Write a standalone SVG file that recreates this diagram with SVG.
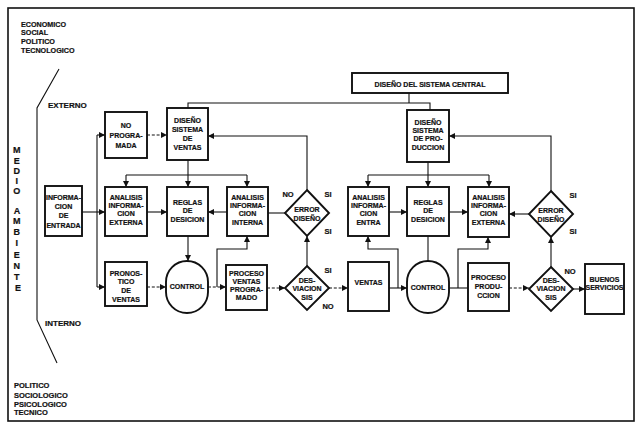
<svg xmlns="http://www.w3.org/2000/svg" width="639" height="426" viewBox="0 0 639 426">
  <style>
    .frame { fill: none; stroke: #111; stroke-width: 1.6; }
    .box { fill: #fff; stroke: #111; stroke-width: 1.9; }
    .ln { fill: none; stroke: #111; stroke-width: 1.1; }
    .dash { stroke-dasharray: 3 1.8; }
    .t { font-family: "Liberation Sans", Arial, sans-serif; font-weight: bold; font-size: 7px; fill: #111; stroke: #111; stroke-width: 0.2; text-anchor: middle; }
    .side { font-family: "Liberation Sans", Arial, sans-serif; font-weight: bold; fill: #111; stroke: #111; stroke-width: 0.2; }
    .lbl { font-family: "Liberation Sans", Arial, sans-serif; font-weight: bold; font-size: 7.5px; fill: #111; stroke: #111; stroke-width: 0.2; text-anchor: middle; }
  </style>
  <defs>
    <marker id="ah" viewBox="0 0 6 6" refX="6" refY="3" markerWidth="6" markerHeight="6" markerUnits="userSpaceOnUse" orient="auto">
      <path d="M0,0 L6,3 L0,6 Z" fill="#111"/>
    </marker>
  </defs>

  <rect width="639" height="426" fill="#fff"/>
  <rect class="frame" x="8" y="8" width="626" height="413"/>

  <!-- environment annotations -->
  <g id="environment">
    <text class="side" font-size="7.2">
      <tspan x="21" y="26.5">ECONOMICO</tspan>
      <tspan x="21" y="34.5">SOCIAL</tspan>
      <tspan x="21" y="43.5">POLITICO</tspan>
      <tspan x="21" y="52.5">TECNOLOGICO</tspan>
    </text>
    <text class="side" font-size="8" x="48" y="108">EXTERNO</text>
    <text class="side" font-size="8" x="45" y="326">INTERNO</text>
    <text class="side" font-size="7.5">
      <tspan x="14" y="388">POLITICO</tspan>
      <tspan x="14" y="397.5">SOCIOLOGICO</tspan>
      <tspan x="14" y="406.5">PSICOLOGICO</tspan>
      <tspan x="14" y="415">TECNICO</tspan>
    </text>
    <text class="side" font-size="9" text-anchor="middle">
      <tspan x="18" y="153">M</tspan>
      <tspan x="18" y="164">E</tspan>
      <tspan x="18" y="174">D</tspan>
      <tspan x="18" y="184">I</tspan>
      <tspan x="18" y="194">O</tspan>
      <tspan x="18" y="214">A</tspan>
      <tspan x="18" y="224">M</tspan>
      <tspan x="18" y="235">B</tspan>
      <tspan x="18" y="246">I</tspan>
      <tspan x="18" y="258">E</tspan>
      <tspan x="18" y="269">N</tspan>
      <tspan x="18" y="280">T</tspan>
      <tspan x="18" y="291">E</tspan>
    </text>
    <path class="ln" d="M59,69 L37,108 L37,320 L57,363"/>
  </g>

  <!-- connectors -->
  <g id="connectors">
    <!-- central design to both subsystem designs -->
    <path class="ln" d="M409,93 V103"/>
    <path class="ln" d="M188,108 V103 H430 V110"/>
    <!-- input bus -->
    <path class="ln" d="M97,135 V287"/>
    <path class="ln" d="M97,135 H105" marker-end="url(#ah)"/>
    <path class="ln" d="M82,212 H105" marker-end="url(#ah)"/>
    <path class="ln" d="M97,287 H105" marker-end="url(#ah)"/>
    <!-- sales subsystem -->
    <path class="ln dash" d="M147,135 H167" marker-end="url(#ah)"/>
    <path class="ln" d="M307,190 V136 H208" marker-end="url(#ah)"/>
    <path class="ln" d="M188,160 V187" marker-end="url(#ah)"/>
    <path class="ln" d="M126,175 H247"/>
    <path class="ln" d="M126,175 V187" marker-end="url(#ah)"/>
    <path class="ln" d="M247,175 V187" marker-end="url(#ah)"/>
    <path class="ln" d="M147,212 H167" marker-end="url(#ah)"/>
    <path class="ln" d="M227,212 H208" marker-end="url(#ah)"/>
    <path class="ln" d="M285,213 H268"/>
    <path class="ln" d="M188,236 V261" marker-end="url(#ah)"/>
    <path class="ln dash" d="M147,287 H166" marker-end="url(#ah)"/>
    <path class="ln dash" d="M208,287 H226" marker-end="url(#ah)"/>
    <path class="ln" d="M217,287 V249 H247 V236" marker-end="url(#ah)"/>
    <path class="ln dash" d="M267,288 H285" marker-end="url(#ah)"/>
    <path class="ln" d="M307,266 V236" marker-end="url(#ah)"/>
    <path class="ln dash" d="M329,288 H348" marker-end="url(#ah)"/>
    <!-- production subsystem -->
    <path class="ln" d="M389,288 H407" marker-end="url(#ah)"/>
    <path class="ln" d="M398,288 V249 H368 V236" marker-end="url(#ah)"/>
    <path class="ln" d="M428,162 V187" marker-end="url(#ah)"/>
    <path class="ln" d="M368,175 H489"/>
    <path class="ln" d="M368,175 V187" marker-end="url(#ah)"/>
    <path class="ln" d="M489,175 V187" marker-end="url(#ah)"/>
    <path class="ln" d="M389,212 H407" marker-end="url(#ah)"/>
    <path class="ln" d="M449,212 H468" marker-end="url(#ah)"/>
    <path class="ln" d="M529,214 H509" marker-end="url(#ah)"/>
    <path class="ln" d="M551,191 V136 H449" marker-end="url(#ah)"/>
    <path class="ln" d="M428,236 V261"/>
    <path class="ln" d="M449,288 H468"/>
    <path class="ln" d="M458,288 V249 H488 V237" marker-end="url(#ah)"/>
    <path class="ln dash" d="M509,288 H529" marker-end="url(#ah)"/>
    <path class="ln" d="M573,289 H585" marker-end="url(#ah)"/>
    <path class="ln" d="M551,267 V237" marker-end="url(#ah)"/>
  </g>

  <!-- nodes -->
  <g id="sistema-central">
    <rect class="box" x="352" y="73" width="156" height="20"/>
    <text class="t" x="430" y="86.5" font-size="8">DISEÑO DEL SISTEMA CENTRAL</text>
  </g>

  <g id="no-programada">
    <rect class="box" x="105" y="112" width="42" height="46"/>
    <text class="t"><tspan x="126" y="127.5">NO</tspan><tspan x="126" y="137.5">PROGRA-</tspan><tspan x="126" y="147.5">MADA</tspan></text>
  </g>

  <g id="diseno-ventas">
    <rect class="box" x="167" y="108" width="41" height="52"/>
    <text class="t"><tspan x="187.5" y="122.5">DISEÑO</tspan><tspan x="187.5" y="131.5">SISTEMA</tspan><tspan x="187.5" y="140.5">DE</tspan><tspan x="187.5" y="150">VENTAS</tspan></text>
  </g>

  <g id="diseno-produccion">
    <rect class="box" x="407" y="110" width="42" height="52"/>
    <text class="t"><tspan x="428" y="124.5">DISEÑO</tspan><tspan x="428" y="132.5">SISTEMA</tspan><tspan x="428" y="140.5">DE PRO-</tspan><tspan x="428" y="149.5">DUCCION</tspan></text>
  </g>

  <g id="informacion-entrada">
    <rect class="box" x="45" y="186" width="37" height="50"/>
    <text class="t"><tspan x="63.5" y="199.5">INFORMA-</tspan><tspan x="63.5" y="208.5">CION</tspan><tspan x="63.5" y="218">DE</tspan><tspan x="63.5" y="227.5">ENTRADA</tspan></text>
  </g>

  <g id="analisis-externa-ventas">
    <rect class="box" x="105" y="187" width="42" height="49"/>
    <text class="t"><tspan x="126" y="199.5">ANALISIS</tspan><tspan x="126" y="207.5">INFORMA-</tspan><tspan x="126" y="216">CION</tspan><tspan x="126" y="224.5">EXTERNA</tspan></text>
  </g>

  <g id="reglas-ventas">
    <rect class="box" x="167" y="187" width="41" height="49"/>
    <text class="t"><tspan x="187.5" y="204.5">REGLAS</tspan><tspan x="187.5" y="212.5">DE</tspan><tspan x="187.5" y="221.5">DESICION</tspan></text>
  </g>

  <g id="analisis-interna">
    <rect class="box" x="227" y="187" width="41" height="49"/>
    <text class="t"><tspan x="247.5" y="199.5">ANALISIS</tspan><tspan x="247.5" y="207.5">INFORMA-</tspan><tspan x="247.5" y="216">CION</tspan><tspan x="247.5" y="224.5">INTERNA</tspan></text>
  </g>

  <g id="error-diseno-ventas">
    <polygon class="box" points="307,190 329,213 307,236 285,213"/>
    <text class="t"><tspan x="307" y="211.5">ERROR</tspan><tspan x="307" y="220.5">DISEÑO</tspan></text>
  </g>

  <g id="pronostico-ventas">
    <rect class="box" x="105" y="262" width="42" height="44"/>
    <text class="t"><tspan x="126" y="275.5">PRONOS-</tspan><tspan x="126" y="283.5">TICO</tspan><tspan x="126" y="292.5">DE</tspan><tspan x="126" y="301.5">VENTAS</tspan></text>
  </g>

  <g id="control-ventas">
    <path class="box" d="M166,282 A21,21 0 0 1 208,282 V292 A21,21 0 0 1 166,292 Z"/>
    <text class="t" x="187" y="289">CONTROL</text>
  </g>

  <g id="proceso-ventas">
    <rect class="box" x="226" y="265" width="41" height="45"/>
    <text class="t"><tspan x="246.5" y="276">PROCESO</tspan><tspan x="246.5" y="284">VENTAS</tspan><tspan x="246.5" y="292">PROGRA-</tspan><tspan x="246.5" y="300">MADO</tspan></text>
  </g>

  <g id="desviaciones-ventas">
    <polygon class="box" points="307,266 329,288 307,310 285,288"/>
    <text class="t"><tspan x="307" y="282.5">DES-</tspan><tspan x="307" y="291">VIACION</tspan><tspan x="307" y="299.5">SIS</tspan></text>
  </g>

  <g id="ventas">
    <rect class="box" x="348" y="262" width="41" height="49"/>
    <text class="t" x="368.5" y="284.5">VENTAS</text>
  </g>

  <g id="analisis-entra">
    <rect class="box" x="348" y="187" width="41" height="49"/>
    <text class="t"><tspan x="368.5" y="199.5">ANALISIS</tspan><tspan x="368.5" y="207.5">INFORMA-</tspan><tspan x="368.5" y="216">CION</tspan><tspan x="368.5" y="224.5">ENTRA</tspan></text>
  </g>

  <g id="reglas-produccion">
    <rect class="box" x="407" y="187" width="42" height="49"/>
    <text class="t"><tspan x="428" y="204.5">REGLAS</tspan><tspan x="428" y="212.5">DE</tspan><tspan x="428" y="221.5">DESICION</tspan></text>
  </g>

  <g id="analisis-externa-produccion">
    <rect class="box" x="468" y="187" width="41" height="50"/>
    <text class="t"><tspan x="488.5" y="199.5">ANALISIS</tspan><tspan x="488.5" y="207.5">INFORMA-</tspan><tspan x="488.5" y="216">CION</tspan><tspan x="488.5" y="224.5">EXTERNA</tspan></text>
  </g>

  <g id="error-diseno-produccion">
    <polygon class="box" points="551,191 573,214 551,237 529,214"/>
    <text class="t"><tspan x="551" y="212.5">ERROR</tspan><tspan x="551" y="221.5">DISEÑO</tspan></text>
  </g>

  <g id="control-produccion">
    <path class="box" d="M407,282 A21,21 0 0 1 449,282 V292 A21,21 0 0 1 407,292 Z"/>
    <text class="t" x="428" y="289.5">CONTROL</text>
  </g>

  <g id="proceso-produccion">
    <rect class="box" x="468" y="263" width="41" height="48"/>
    <text class="t"><tspan x="488.5" y="279.5">PROCESO</tspan><tspan x="488.5" y="288.5">PRODU-</tspan><tspan x="488.5" y="297.5">CCION</tspan></text>
  </g>

  <g id="desviaciones-produccion">
    <polygon class="box" points="551,267 573,289 551,311 529,289"/>
    <text class="t"><tspan x="551" y="282.5">DES-</tspan><tspan x="551" y="291">VIACION</tspan><tspan x="551" y="299.5">SIS</tspan></text>
  </g>

  <g id="buenos-servicios">
    <rect class="box" x="585" y="264" width="39" height="50"/>
    <text class="t" font-size="6.6"><tspan x="604.5" y="281.5">BUENOS</tspan><tspan x="604.5" y="289.5">SERVICIOS</tspan></text>
  </g>

  <!-- decision branch labels -->
  <g id="branch-labels">
    <text class="lbl" x="288" y="197">NO</text>
    <text class="lbl" x="328" y="197">SI</text>
    <text class="lbl" x="328" y="234">SI</text>
    <text class="lbl" x="328" y="273">SI</text>
    <text class="lbl" x="328" y="309">NO</text>
    <text class="lbl" x="573" y="198">SI</text>
    <text class="lbl" x="573" y="234">SI</text>
    <text class="lbl" x="570" y="274">NO</text>
  </g>
</svg>
